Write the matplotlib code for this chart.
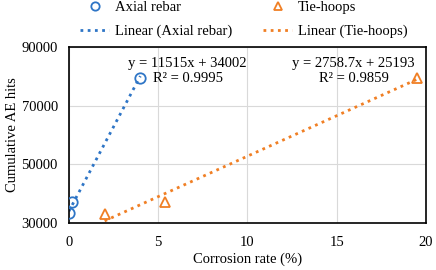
import matplotlib
matplotlib.use("Agg")
import matplotlib.pyplot as plt
import numpy as np

# data
axial_x = [0.0, 0.2, 4.0]
axial_y = [33500, 37000, 79500]
tie_x = [2.0, 5.4, 19.5]
tie_y = [33000, 37000, 79500]

axial_fit = (11515, 34002, 0.9995)
tie_fit = (2758.7, 25193, 0.9859)

xticks = [0, 5, 10, 15, 20]
yticks = [30000, 50000, 70000, 90000]

blue = "#2E75C6"
orange = "#F07F24"
fs = 10.5

plt.rcParams["font.family"] = ["Liberation Serif", "DejaVu Serif"]

fig = plt.figure(figsize=(4.36, 2.70), dpi=100)
ax = fig.add_axes([0.158, 0.174, 0.819, 0.652])

ax.plot(axial_x, axial_y, "o", ms=7.5, mfc="none", mec=blue, mew=1.3,
        label="Axial rebar", zorder=3)
ax.plot(tie_x, tie_y, "^", ms=7.5, mfc="none", mec=orange, mew=1.3,
        label="Tie-hoops", zorder=3)

# trend lines over each series' x-range
xa = np.array([min(axial_x), max(axial_x)])
ax.plot(xa, axial_fit[0] * xa + axial_fit[1], ls=(0, (1, 1.6)), lw=2,
        color=blue, label="Linear (Axial rebar)")
xt = np.array([min(tie_x), max(tie_x)])
ax.plot(xt, tie_fit[0] * xt + tie_fit[1], ls=(0, (1, 1.6)), lw=2,
        color=orange, label="Linear (Tie-hoops)")

ax.text(6.65, 81900, f"y = {axial_fit[0]}x + {axial_fit[1]}\nR² = {axial_fit[2]}",
        ha="center", va="center", fontsize=fs, linespacing=1.2)
ax.text(15.95, 81900, f"y = {tie_fit[0]}x + {tie_fit[1]}\nR² = {tie_fit[2]}",
        ha="center", va="center", fontsize=fs, linespacing=1.2)

ax.set_xlim(0, 20)
ax.set_ylim(30000, 90000)
ax.set_xticks(xticks)
ax.set_yticks(yticks)
ax.tick_params(axis="x", length=0, labelsize=fs, pad=9)
ax.tick_params(axis="y", length=0, labelsize=fs, pad=8)
ax.grid(color="#d9d9d9", lw=0.8)
ax.set_axisbelow(True)
for s in ax.spines.values():
    s.set_color("black")
    s.set_linewidth(1.2)

ax.set_xlabel("Corrosion rate (%)", fontsize=fs, labelpad=3)
ax.set_ylabel("Cumulative AE hits", fontsize=fs, labelpad=2)

handles, labels = ax.get_legend_handles_labels()
order = [0, 2, 1, 3]
ax.legend([handles[i] for i in order], [labels[i] for i in order],
          ncol=2, loc="lower center", bbox_to_anchor=(0.49, 1.05),
          frameon=False, fontsize=fs, handlelength=2.0, handletextpad=0.4,
          columnspacing=2.1, labelspacing=0.75, borderaxespad=0.0,
          borderpad=0.0, markerscale=0.8)

fig.savefig("out.png", dpi=100)
